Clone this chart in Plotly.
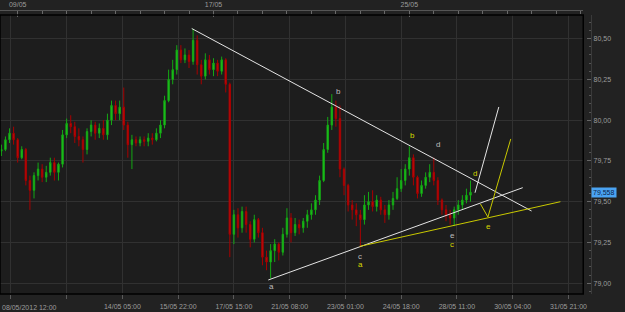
import plotly.graph_objects as go

# ---- data (hour index on a trading-time axis, 3-hour bars) ----
bar_hours = list(range(-12, 336, 3))

opens = [79.81, 79.82, 79.88, 79.92, 79.88, 79.77, 79.82, 79.63, 79.57, 79.66,
         79.70, 79.65, 79.68, 79.74, 79.68, 79.73, 79.91, 79.98, 79.96, 79.90,
         79.88, 79.82, 79.93, 79.97, 79.92, 79.95, 79.91, 80.00, 80.09, 80.04,
         80.08, 79.97, 79.85, 79.88, 79.86, 79.88, 79.87, 79.89, 79.88, 79.92,
         79.97, 80.12, 80.25, 80.31, 80.43, 80.37, 80.40, 80.36, 80.49, 80.34,
         80.27, 80.37, 80.31, 80.35, 80.30, 80.37, 80.22, 79.30, 79.42, 79.34,
         79.44, 79.36, 79.27, 79.39, 79.31, 79.16, 79.13, 79.20, 79.24, 79.19,
         79.30, 79.40, 79.31, 79.36, 79.34, 79.38, 79.42, 79.45, 79.51, 79.63,
         79.82, 79.97, 80.08, 80.01, 79.70, 79.60, 79.48, 79.45, 79.42, 79.39,
         79.48, 79.50, 79.47, 79.51, 79.45, 79.42, 79.48, 79.52, 79.58, 79.63,
         79.70, 79.77, 79.65, 79.55, 79.60, 79.65, 79.68, 79.63, 79.51, 79.45,
         79.42, 79.40, 79.45, 79.48, 79.51, 79.54]
highs = [79.85, 79.90, 79.95, 79.96, 79.89, 79.84, 79.83, 79.66, 79.68, 79.74,
         79.73, 79.72, 79.77, 79.77, 79.74, 79.94, 80.01, 80.03, 79.99, 79.95,
         79.90, 79.95, 80.00, 79.99, 79.98, 80.00, 80.04, 80.12, 80.12, 80.12,
         80.20, 79.99, 79.91, 79.90, 79.90, 79.90, 79.92, 79.92, 79.95, 80.00,
         80.15, 80.31, 80.37, 80.46, 80.46, 80.44, 80.43, 80.56, 80.52, 80.37,
         80.41, 80.40, 80.38, 80.37, 80.39, 80.38, 80.23, 79.45, 79.46, 79.47,
         79.47, 79.38, 79.42, 79.40, 79.34, 79.20, 79.24, 79.27, 79.25, 79.34,
         79.46, 79.43, 79.40, 79.39, 79.40, 79.45, 79.49, 79.54, 79.66, 79.86,
         80.02, 80.16, 80.12, 80.09, 79.71, 79.61, 79.51, 79.49, 79.45, 79.54,
         79.56, 79.57, 79.54, 79.53, 79.48, 79.51, 79.56, 79.65, 79.70, 79.73,
         79.84, 79.79, 79.66, 79.63, 79.68, 79.73, 79.77, 79.65, 79.52, 79.48,
         79.45, 79.47, 79.51, 79.54, 79.58, 79.63]
lows = [79.78, 79.81, 79.86, 79.85, 79.74, 79.76, 79.60, 79.45, 79.52, 79.63,
        79.62, 79.62, 79.66, 79.63, 79.63, 79.71, 79.89, 79.92, 79.86, 79.84,
        79.74, 79.79, 79.90, 79.88, 79.89, 79.88, 79.88, 79.97, 80.00, 80.00,
        79.94, 79.77, 79.70, 79.84, 79.84, 79.84, 79.84, 79.85, 79.87, 79.89,
        79.95, 80.11, 80.22, 80.28, 80.35, 80.35, 80.32, 80.34, 80.28, 80.22,
        80.25, 80.28, 80.27, 80.27, 80.28, 80.17, 79.16, 79.24, 79.28, 79.31,
        79.31, 79.22, 79.25, 79.28, 79.11, 79.08, 79.03, 79.13, 79.14, 79.17,
        79.28, 79.25, 79.29, 79.30, 79.31, 79.34, 79.39, 79.42, 79.48, 79.62,
        79.80, 79.94, 79.96, 79.65, 79.54, 79.44, 79.39, 79.35, 79.22, 79.36,
        79.45, 79.44, 79.44, 79.42, 79.37, 79.39, 79.45, 79.51, 79.56, 79.60,
        79.66, 79.60, 79.52, 79.53, 79.58, 79.62, 79.60, 79.48, 79.42, 79.38,
        79.36, 79.35, 79.42, 79.45, 79.49, 79.50]
closes = [79.82, 79.88, 79.92, 79.88, 79.77, 79.82, 79.63, 79.57, 79.66, 79.70,
          79.65, 79.68, 79.74, 79.68, 79.73, 79.91, 79.98, 79.96, 79.90, 79.88,
          79.82, 79.93, 79.97, 79.92, 79.95, 79.91, 80.00, 80.09, 80.04, 80.08,
          79.97, 79.85, 79.88, 79.86, 79.88, 79.87, 79.89, 79.88, 79.92, 79.97,
          80.12, 80.25, 80.31, 80.43, 80.37, 80.40, 80.36, 80.49, 80.34, 80.27,
          80.37, 80.31, 80.35, 80.30, 80.37, 80.22, 79.30, 79.42, 79.34, 79.44,
          79.36, 79.27, 79.39, 79.31, 79.16, 79.13, 79.20, 79.24, 79.19, 79.30,
          79.40, 79.31, 79.36, 79.34, 79.38, 79.42, 79.45, 79.51, 79.63, 79.82,
          79.97, 80.08, 80.01, 79.70, 79.60, 79.48, 79.45, 79.42, 79.39, 79.48,
          79.50, 79.47, 79.51, 79.45, 79.42, 79.48, 79.52, 79.58, 79.63, 79.70,
          79.77, 79.65, 79.55, 79.60, 79.65, 79.68, 79.63, 79.51, 79.45, 79.42,
          79.40, 79.45, 79.48, 79.51, 79.54, 79.558]

# bottom time axis (trading hours)
bottom_tick_hours = [-5, 36, 77, 118, 159, 200, 241, 282, 323, 364, 405]
bottom_tick_text = ["", "", "14/05 05:00", "15/05 22:00", "17/05 15:00", "21/05 08:00",
                    "23/05 01:00", "24/05 18:00", "28/05 11:00", "30/05 04:00", "31/05 21:00"]
first_label = "08/05/2012 12:00"
top_tick_hours = [0, 144, 288]
top_tick_text = ["09/05", "17/05", "25/05"]
price_ticks = [79.00, 79.25, 79.50, 79.75, 80.00, 80.25, 80.50]

# drawn analysis lines (hour, price)
down_line_h = [128.0, 377.9]
down_line_p = [80.562, 79.443]
up_line_h = [184.3, 371.4]
up_line_p = [79.020, 79.586]
yellow_line_h = [251.5, 399.1]
yellow_line_p = [79.226, 79.500]
proj_white_h = [336.3, 353.8]
proj_white_p = [79.555, 80.081]
proj_yellow_h = [340.3, 345.8, 362.6]
proj_yellow_p = [79.486, 79.406, 79.885]

# wave labels
wave_text = ["a", "b", "b", "d", "d", "c", "a", "e", "c", "e"]
wave_h = [186.6, 236.2, 290.3, 309.3, 336.6, 251.9, 252.3, 319.5, 319.5, 346.5]
wave_p = [78.983, 80.173, 79.906, 79.848, 79.676, 79.167, 79.112, 79.290, 79.235, 79.348]
wave_col = ["g", "g", "y", "g", "y", "g", "y", "g", "y", "y"]

WHITE = "#e4e4e4"
YELLOW = "#c9c900"
GREYTXT = "#bdbdbd"
YELTXT = "#d6d600"

fig = go.Figure()
fig.add_trace(go.Candlestick(
    x=bar_hours, open=opens, high=highs, low=lows, close=closes,
    increasing=dict(line=dict(color="#14a814", width=1), fillcolor="#22cc22"),
    decreasing=dict(line=dict(color="#a80000", width=1), fillcolor="#c81010"),
    whiskerwidth=0, hoverinfo="skip", showlegend=False))

for hx, py, col in [(down_line_h, down_line_p, WHITE), (up_line_h, up_line_p, WHITE),
                    (yellow_line_h, yellow_line_p, YELLOW), (proj_white_h, proj_white_p, WHITE),
                    (proj_yellow_h, proj_yellow_p, YELLOW)]:
    fig.add_trace(go.Scatter(x=hx, y=py, mode="lines", line=dict(color=col, width=1),
                             hoverinfo="skip", showlegend=False))

# dummy trace for top axis
fig.add_trace(go.Scatter(x=[], y=[], xaxis="x2", yaxis="y", showlegend=False))

for t, hx, py, c in zip(wave_text, wave_h, wave_p, wave_col):
    fig.add_annotation(x=hx, y=py, text=t, showarrow=False,
                       font=dict(size=8, color=GREYTXT if c == "g" else YELTXT,
                                 family="Liberation Sans"))

XR = [-13.0, 415.9]
fig.update_layout(
    width=625, height=312,
    margin=dict(l=0, r=0, t=10, b=18),
    paper_bgcolor="#222222", plot_bgcolor="#1d1d1d",
    separators=", ",
    boxgap=0.5,
    font=dict(family="Liberation Sans", size=7, color="#9c9c9c"),
    showlegend=False,
    xaxis=dict(domain=[0, 0.9392], range=XR, rangeslider=dict(visible=False),
               tickmode="array", tickvals=bottom_tick_hours, ticktext=bottom_tick_text,
               showgrid=True, gridcolor="#313131", gridwidth=1, zeroline=False,
               ticks="outside", ticklen=4, tickcolor="#5a5a5a", showline=False,
               ticklabelstandoff=2, fixedrange=True),
    xaxis2=dict(overlaying="x", side="top", anchor="free", position=1.0, range=XR,
                tickmode="array", tickvals=top_tick_hours, ticktext=top_tick_text,
                ticks="inside", ticklen=6, tickcolor="#6a6a6a",
                minor=dict(tickmode="linear", tick0=0, dtick=18, ticks="inside",
                           ticklen=3, tickcolor="#6a6a6a", showgrid=False),
                showline=True, linecolor="#555555", showgrid=False, zeroline=False),
    yaxis=dict(domain=[0, 0.9824], range=[78.934, 80.645], side="right",
               anchor="free", position=0.952,
               tickmode="array", tickvals=price_ticks, tickformat=".2f",
               showgrid=True, gridcolor="#313131", zeroline=False,
               ticks="inside", ticklen=4, tickcolor="#666666",
               minor=dict(tickmode="linear", tick0=79.0, dtick=0.05, ticks="inside",
                          ticklen=2, tickcolor="#555555", showgrid=False),
               showline=True, linecolor="#3a3a3a", fixedrange=True),
)

fig.add_shape(type="rect", xref="paper", yref="paper", x0=0, x1=0.9392, y0=0, y1=0.9824,
              line=dict(color="#000000", width=1.5), layer="above")

fig.add_annotation(xref="paper", yref="paper", x=0.0, y=-0.046, xanchor="left",
                   yanchor="middle", text=first_label, showarrow=False,
                   font=dict(size=7, color="#9c9c9c"))

last_txt = f"{closes[-1]:.3f}".replace(".", ",")
fig.add_annotation(xref="paper", yref="y", x=0.952, y=closes[-1], xanchor="left",
                   yanchor="middle", text=last_txt, showarrow=False,
                   bgcolor="#4aa3f2", borderpad=1,
                   font=dict(size=7, color="#0b1f4a"))

fig.write_html("out.html")
